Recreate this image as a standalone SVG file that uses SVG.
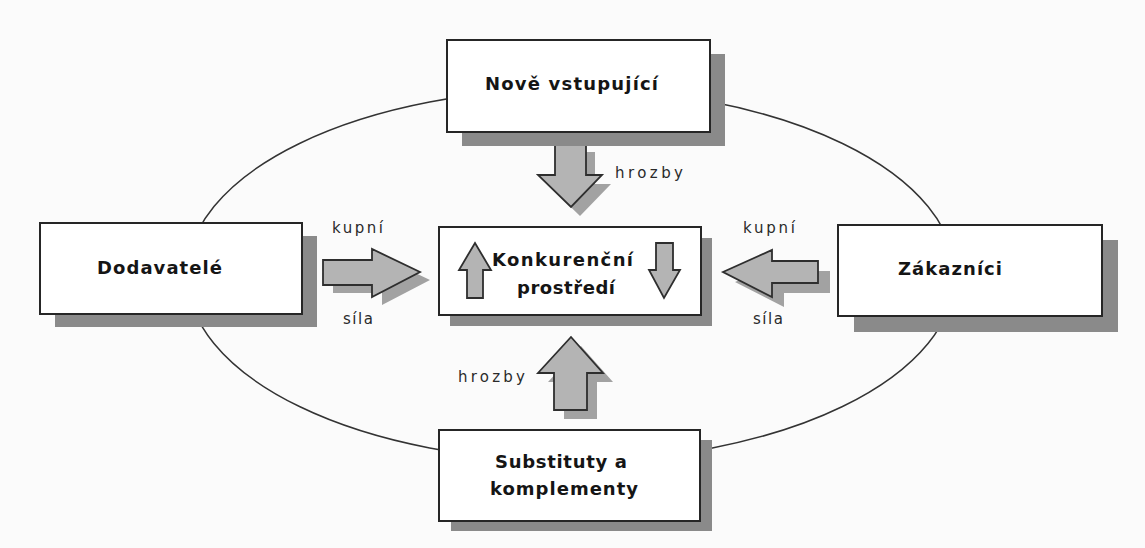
<svg xmlns="http://www.w3.org/2000/svg" width="1145" height="548" viewBox="0 0 1145 548">
<style>
.bg{fill:#fbfbfb}
.shadow{fill:#8a8a8a}
.box{fill:#ffffff;stroke:#262626;stroke-width:2}
.ring{fill:none;stroke:#333333;stroke-width:1.5}
.arr{fill:#b4b4b4;stroke:#2e2e2e;stroke-width:1.8;stroke-linejoin:miter}
.ashadow{fill:#a2a2a2}
.t{font-family:"DejaVu Sans","Liberation Sans",sans-serif;font-weight:bold;font-size:18px;fill:#151515}
.s{font-family:"DejaVu Sans","Liberation Sans",sans-serif;font-size:15px;fill:#2a2a2a}
</style>
<rect class="bg" x="0" y="0" width="1145" height="548"/>

<g id="connectors">
  <ellipse class="ring" cx="571" cy="275" rx="384" ry="186"/>
  <g id="arrow-top">
    <polygon class="ashadow" transform="translate(9,9)" points="555,143 586,143 586,175 602,175 571,207 538,175 555,175"/>
    <polygon class="arr" points="555,143 586,143 586,175 602,175 571,207 538,175 555,175"/>
    <text class="s" x="615" y="178" textLength="68" lengthAdjust="spacing">hrozby</text>
  </g>
  <g id="arrow-bottom">
    <polygon class="ashadow" transform="translate(10,9)" points="554,410 587,410 587,373 603,373 571,337 538,373 554,373"/>
    <polygon class="arr" points="554,410 587,410 587,373 603,373 571,337 538,373 554,373"/>
    <text class="s" x="458" y="382" textLength="67" lengthAdjust="spacing">hrozby</text>
  </g>
  <g id="arrow-left">
    <polygon class="ashadow" transform="translate(10,8)" points="323,260 372,260 372,249 420,272 372,297 372,285 323,285"/>
    <polygon class="arr" points="323,260 372,260 372,249 420,272 372,297 372,285 323,285"/>
    <text class="s" x="332" y="233" textLength="51" lengthAdjust="spacing">kupní</text>
    <text class="s" x="343" y="324" textLength="30" lengthAdjust="spacing">síla</text>
  </g>
  <g id="arrow-right">
    <polygon class="ashadow" transform="translate(12,10)" points="818,261 772,261 772,250 723,272 772,297 772,283 818,283"/>
    <polygon class="arr" points="818,261 772,261 772,250 723,272 772,297 772,283 818,283"/>
    <text class="s" x="743" y="233" textLength="52" lengthAdjust="spacing">kupní</text>
    <text class="s" x="753" y="324" textLength="30" lengthAdjust="spacing">síla</text>
  </g>
</g>

<g id="node-nove">
  <rect class="shadow" x="462" y="54" width="263" height="92"/>
  <rect class="box" x="447" y="40" width="263" height="92"/>
  <text class="t" x="485" y="90" textLength="173" lengthAdjust="spacing">Nově vstupující</text>
</g>

<g id="node-dodavatele">
  <rect class="shadow" x="55" y="236" width="262" height="91"/>
  <rect class="box" x="40" y="223" width="262" height="91"/>
  <text class="t" x="97" y="274" textLength="125" lengthAdjust="spacing">Dodavatelé</text>
</g>

<g id="node-zakaznici">
  <rect class="shadow" x="854" y="240" width="264" height="92"/>
  <rect class="box" x="838" y="225" width="264" height="91"/>
  <text class="t" x="898" y="275" textLength="104" lengthAdjust="spacing">Zákazníci</text>
</g>

<g id="node-konkurencni">
  <rect class="shadow" x="450" y="238" width="262" height="88"/>
  <rect class="box" x="439" y="227" width="262" height="88"/>
  <polygon class="arr" points="467,298 483,298 483,270 491,270 475,243 459,270 467,270"/>
  <polygon class="arr" points="656,243 673,243 673,270 680,270 664,298 649,270 656,270"/>
  <text class="t" x="492" y="266" textLength="141" lengthAdjust="spacing">Konkurenční</text>
  <text class="t" x="517" y="294" textLength="98" lengthAdjust="spacing">prostředí</text>
</g>

<g id="node-substituty">
  <rect class="shadow" x="451" y="440" width="261" height="91"/>
  <rect class="box" x="439" y="430" width="261" height="91"/>
  <text class="t" x="495" y="468" textLength="132" lengthAdjust="spacing">Substituty a</text>
  <text class="t" x="490" y="495" textLength="148" lengthAdjust="spacing">komplementy</text>
</g>
</svg>
